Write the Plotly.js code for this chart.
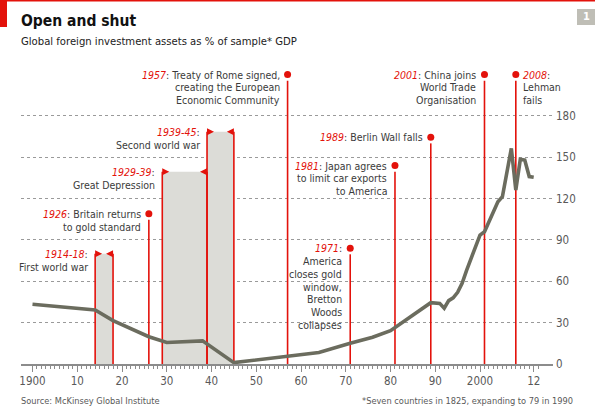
<!DOCTYPE html>
<html>
<head>
<meta charset="utf-8">
<script src="https://cdn.plot.ly/plotly-3.0.1.min.js"></script>
<style>
  html, body { margin: 0; padding: 0; background: #ffffff; }
  #chart { width: 595px; height: 407px; }
</style>
</head>
<body>
<div id="chart"></div>
<script>
// ---------------- DATA ----------------
const years = [1900, 1914, 1918, 1926, 1930, 1938, 1945, 1957, 1964, 1971, 1976, 1980, 1989, 1991, 1992, 1993, 1994, 1995, 1996, 1997, 1998, 1999, 2000, 2001, 2002, 2003, 2004, 2005, 2006, 2007, 2008, 2009, 2010, 2011, 2012];
const assets = [43.3, 39.2, 31.5, 19.8, 15.6, 16.8, 1.0, 5.3, 8.4, 15.0, 19.4, 24.2, 44.5, 44.0, 40.5, 46.0, 48.0, 52.0, 58.5, 68.0, 76.6, 84.0, 93.6, 96.0, 103.0, 110.0, 117.8, 121.4, 139.0, 156.5, 126.3, 148.5, 148.0, 136.0, 135.5];

// Point events
const eventYears = [1926, 1957, 1971, 1981, 1989, 2001, 2008];
const eventYearText = ["1926", "1957", "1971", "1981", "1989", "2001", "2008"];
const eventLines = [
  [": Britain returns", "to gold standard"],
  [": Treaty of Rome signed,", "creating the European", "Economic Community"],
  [":", "America", "closes gold", "window,", "Bretton", "Woods", "collapses"],
  [": Japan agrees", "to limit car exports", "to America"],
  [": Berlin Wall falls"],
  [": China joins", "World Trade", "Organisation"],
  [":", "Lehman", "fails"]
];

// Period events
const periodStart = [1914, 1929, 1939];
const periodEnd = [1918, 1939, 1945];
const periodYearText = ["1914-18", "1929-39", "1939-45"];
const periodLines = [
  [":", "First world war"],
  [":", "Great Depression"],
  [":", "Second world war"]
];

// Axis ticks
const xTickVals = [1900, 1910, 1920, 1930, 1940, 1950, 1960, 1970, 1980, 1990, 2000, 2012];
const xTickText = ["1900", "10", "20", "30", "40", "50", "60", "70", "80", "90", "2000", "12"];
const yTickVals = [0, 30, 60, 90, 120, 150, 180];

// ---------------- LAYOUT CONSTANTS (positions / styles) ----------------
const eventHeights = [109, 210, 84, 144, 164.5, 210, 210];   // label heights (y units)
const eventSide = ["left", "left", "left", "left", "left", "left", "right"];
const periodHeights = [80, 139.5, 168.5];

const RED = "#e3120b";
const LINE = "#6b6c5e";
const SHADE = "#dcdcd7";
const TXT = "#3b3b3b";
const GREY = "#595959";
const FONT = "'Liberation Sans Narrow', 'DejaVu Sans Condensed', Roboto, sans-serif";
const LABEL_SIZE = 10.5;

const W = 595, H = 407;
const M = { l: 21, r: 42, t: 60, b: 43 };
const PW = W - M.l - M.r, PH = H - M.t - M.b;
const px = x => (x - M.l) / PW;
const py = y => (H - M.b - y) / PH;
const LINE_STEP = 12.8;
const DOT_GAP = 4.4;

const shapes = [];
const annotations = [];

// header decorations
shapes.push({ type: "rect", xref: "paper", yref: "paper", x0: px(0), x1: px(W), y0: py(0), y1: py(1.5), fillcolor: RED, line: { width: 0 } });
shapes.push({ type: "rect", xref: "paper", yref: "paper", x0: px(0), x1: px(7), y0: py(0), y1: py(27), fillcolor: RED, line: { width: 0 } });
shapes.push({ type: "rect", xref: "paper", yref: "paper", x0: px(577), x1: px(W), y0: py(9), y1: py(25), fillcolor: "#bfbeb6", line: { width: 0 } });
annotations.push({ xref: "paper", yref: "paper", x: px(586), y: py(17), text: "<b>1</b>", showarrow: false, font: { family: FONT, size: 11, color: "#ffffff" }, xanchor: "center", yanchor: "middle" });

// titles
annotations.push({ xref: "paper", yref: "paper", x: px(19), y: py(21), xanchor: "left", yanchor: "middle", showarrow: false, text: "<b>Open and shut</b>", font: { family: FONT, size: 15.5, color: "#111111" } });
annotations.push({ xref: "paper", yref: "paper", x: px(19), y: py(41), xanchor: "left", yanchor: "middle", showarrow: false, text: "Global foreign investment assets as % of sample* GDP", font: { family: FONT, size: 11.2, color: "#222222" } });
annotations.push({ xref: "paper", yref: "paper", x: px(19), y: py(400), xanchor: "left", yanchor: "middle", showarrow: false, text: "Source: McKinsey Global Institute", font: { family: FONT, size: 9.2, color: GREY } });
annotations.push({ xref: "paper", yref: "paper", x: px(575), y: py(400), xanchor: "right", yanchor: "middle", showarrow: false, text: "*Seven countries in 1825, expanding to 79 in 1990", font: { family: FONT, size: 9.2, color: GREY } });

// period shading, lines, arrows, labels
periodStart.forEach((s, i) => {
  const e = periodEnd[i], h = periodHeights[i];
  shapes.push({ type: "rect", xref: "x", yref: "y", x0: s, x1: e, y0: 0, y1: h, fillcolor: SHADE, line: { width: 0 }, layer: "between" });
});
periodStart.forEach((s, i) => {
  const e = periodEnd[i], h = periodHeights[i];
  [s, e].forEach(xv => {
    shapes.push({ type: "line", xref: "x", yref: "y", x0: xv, x1: xv, y0: 0, y1: h, line: { color: RED, width: 1.6 }, layer: "between" });
  });
  shapes.push({ type: "path", xref: "x", yref: "y", xsizemode: "pixel", ysizemode: "pixel", xanchor: s, yanchor: h, path: "M0,-3.5 L7,0 L0,3.5 Z", fillcolor: RED, line: { width: 0 }, layer: "above" });
  shapes.push({ type: "path", xref: "x", yref: "y", xsizemode: "pixel", ysizemode: "pixel", xanchor: e, yanchor: h, path: "M0,-3.5 L-7,0 L0,3.5 Z", fillcolor: RED, line: { width: 0 }, layer: "above" });
  periodLines[i].forEach((t, j) => {
    const text = j === 0 ? "<span style='color:" + RED + "'><i>" + periodYearText[i] + "</i></span>" + t : t;
    annotations.push({ xref: "x", yref: "y", x: s, y: h, xanchor: "right", yanchor: "middle", align: "right", xshift: -5, yshift: -j * LINE_STEP, showarrow: false, text: text, font: { family: FONT, size: LABEL_SIZE, color: TXT } });
  });
});

// point events
eventYears.forEach((yr, i) => {
  const h = eventHeights[i];
  shapes.push({ type: "line", xref: "x", yref: "y", x0: yr, x1: yr, y0: 0, y1: h - DOT_GAP, line: { color: RED, width: 1.6 }, layer: "between" });
  const right = eventSide[i] === "right";
  eventLines[i].forEach((t, j) => {
    const text = j === 0 ? "<span style='color:" + RED + "'><i>" + eventYearText[i] + "</i></span>" + t : t;
    annotations.push({ xref: "x", yref: "y", x: yr, y: h, xanchor: right ? "left" : "right", yanchor: "middle", align: right ? "left" : "right", xshift: right ? 5 : -6, yshift: -j * LINE_STEP, showarrow: false, text: text, font: { family: FONT, size: LABEL_SIZE, color: TXT } });
  });
});

const minorTicks = [];
for (let y = 1900; y <= 2013; y++) minorTicks.push(y);

const traces = [
  { type: "scatter", mode: "lines", x: years, y: assets, line: { color: LINE, width: 3.6 }, hoverinfo: "skip", cliponaxis: false },
  { type: "scatter", mode: "markers", x: eventYears, y: eventHeights, marker: { color: RED, size: 7 }, hoverinfo: "skip", cliponaxis: false }
];

const layout = {
  width: W, height: H,
  margin: M,
  paper_bgcolor: "#ffffff", plot_bgcolor: "#ffffff",
  showlegend: false,
  font: { family: FONT, size: 11, color: TXT },
  xaxis: {
    range: [1897.43, 2016.31],
    showgrid: false, zeroline: false,
    showline: true, linecolor: "#8c8c8c", linewidth: 1.5,
    ticks: "outside", ticklen: 6, tickwidth: 1, tickcolor: "#8c8c8c",
    tickmode: "array", tickvals: xTickVals, ticktext: xTickText,
    tickfont: { family: FONT, size: 11.5, color: GREY },
    minor: { tickmode: "array", tickvals: minorTicks, ticks: "outside", ticklen: 3.5, tickwidth: 1, tickcolor: "#8c8c8c", showgrid: false }
  },
  yaxis: {
    side: "right",
    range: [0, PH / 1.378],
    tickmode: "array", tickvals: yTickVals,
    showgrid: true, gridcolor: "#9a9a9a", griddash: "dot", gridwidth: 1,
    zeroline: false, showline: false, ticks: "",
    ticklabelstandoff: 2,
    tickfont: { family: FONT, size: 11.5, color: GREY }
  },
  shapes: shapes,
  annotations: annotations
};

Plotly.newPlot("chart", traces, layout, { staticPlot: true, displayModeBar: false });
</script>
</body>
</html>
